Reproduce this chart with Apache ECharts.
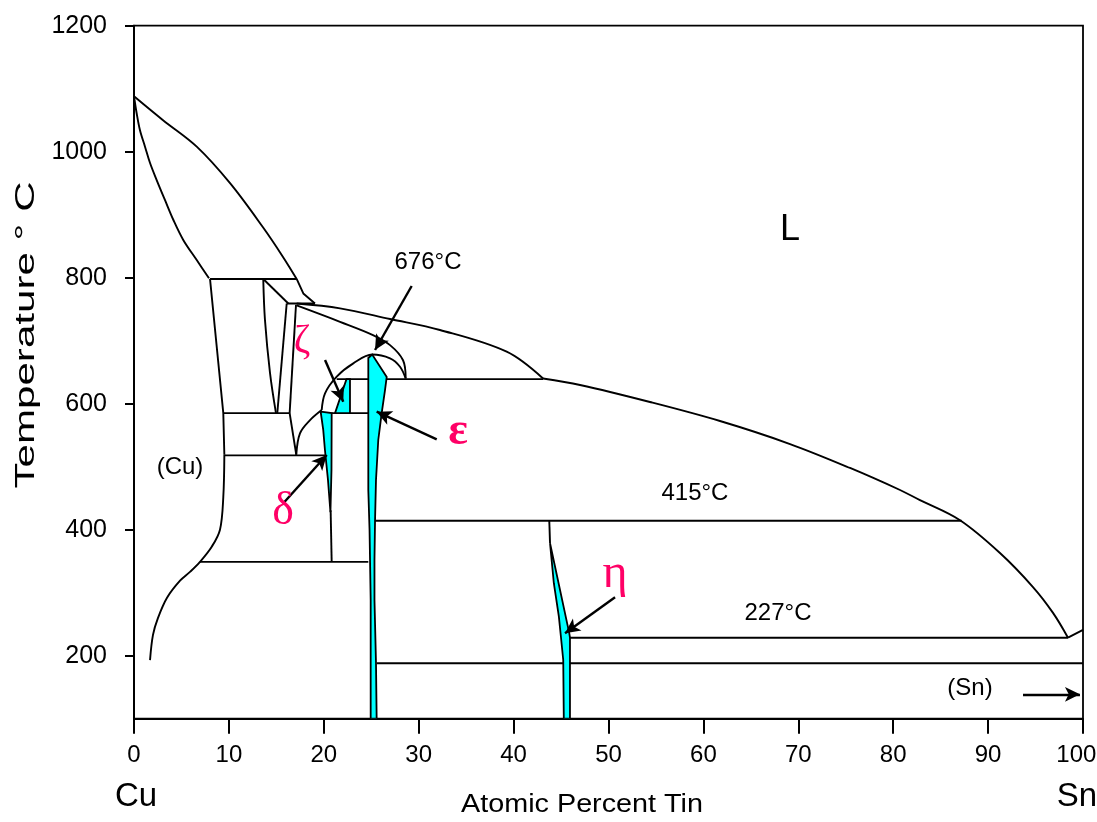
<!DOCTYPE html>
<html><head><meta charset="utf-8">
<script src="https://cdn.jsdelivr.net/npm/echarts@6/dist/echarts.min.js"></script>
<style>html,body{margin:0;padding:0;background:#fff}#c{width:1097px;height:822px}</style>
</head><body><div id="c"></div>
<script>
// ---------- data (composition at.% Sn, temperature °C) ----------
const xTicks = [0,10,20,30,40,50,60,70,80,90,100];
const yTicks = [200,400,600,800,1000,1200];

const liquidusCu = [[0,1088],[3.06,1050],[6.61,1008],[10.12,950],[13.59,880],[15.70,833],[17.14,798]];
const solidusCu = [[0,1088],[0.28,1061],[0.63,1034],[1.16,1008],[1.69,982],[2.39,955],[3.27,923],[4.14,892],[5.19,860],[6.61,828],[7.90,799]];
const alphaUpper = [[8.01,798],[9.41,585],[9.52,519]];
const alphaLower = [[9.52,519],[9.41,452],[9.06,400],[8.19,373],[6.95,349],[5.90,333],[4.85,319],[3.48,292],[2.53,260],[2.0,233],[1.69,193]];
const line798 = [[8.01,798],[17.14,798]];
const betaLeft = [[13.62,798],[13.80,733],[14.33,649],[14.96,585]];
const betaDiag = [[13.62,798],[16.26,759]];
const betaRight1 = [[16.09,759],[15.10,585]];
const betaRight2 = [[17.07,757],[16.40,585]];
const betaEutectoid = [[16.40,585],[17.10,519]];
const liquidusBeta = [[17.14,798],[17.84,775],[19.07,759]];
const line755 = [[16.09,759],[19.07,759]];
const gammaLow = [[17.10,519],[17.49,553],[18.55,574],[19.78,590]];
const dome = [[19.78,590],[20.13,616.5],[21.36,643],[23.11,664],[25.1,678],[26.98,672],[28.03,658.7],[28.63,640]];
const outerArc = [[17.14,756],[21.71,730],[25.18,709],[26.98,693],[28.35,669],[28.63,640]];
const liquidusMain1 = [[17.14,759],[21.71,751.4],[26.98,734.4],[32.24,717],[39.27,682.5],[43.10,640]];
const liquidusMain2 = [[43.10,640],[47.0,629.7],[54.37,602.7],[61.75,572.5],[69.13,536],[75.45,498],[80.72,463],[82.82,447],[87.04,415],[91.25,363],[94.73,309],[96.84,268],[98.42,228.6]];
const line640 = [[21.36,639],[43.10,639]];
const line586a = [[9.41,585],[16.40,585]];
const line586b = [[20.83,585],[24.69,585]];
const line520 = [[9.52,518],[20.31,518]];
const line350 = [[6.95,349],[24.69,349]];
const deltaTail = [[20.72,431],[20.83,349]];
const line415 = [[25.40,414.3],[87.22,414.3]];
const etaStem = [[43.76,414.3],[43.84,378]];
const line227 = [[45.94,228.6],[98.42,228.6]];
const line190 = [[25.57,188],[100,188]];
const snSolvus = [[98.42,228.6],[100,241]];

const deltaPhase = [[19.67,587.3],[20.83,585],[20.81,495],[20.70,428],[20.44,479],[20.12,526.5],[19.94,558.3]];
const zetaPhase = [[22.39,639],[22.76,639],[22.76,585],[21.18,585]];
const epsilonPhase = [[25.1,678],[24.69,672.5],[24.69,463],[24.82,399.5],[24.94,288.4],[24.94,100],[25.57,100],[25.50,188.4],[25.34,288.4],[25.34,352],[25.40,415.4],[25.50,479],[25.74,542.4],[26.10,585.2],[26.45,621.7],[26.63,642.4]];
const etaPhase = [[43.84,378.4],[45.87,235.5],[45.94,228.6],[45.94,100],[45.29,100],[45.23,193.2],[45.02,224.9],[44.77,262],[44.24,315]];

const arrows = [
  [[29.26,786.8],[25.40,685.2]],
  [[20.13,669.4],[22.05,603.2]],
  [[31.90,543.5],[25.57,587.3]],
  [[15.73,441.9],[20.31,518.6]],
  [[50.69,292.7],[45.42,235.6]],
  [[93.68,138.7],[99.68,138.7]]
];

const textLabels = [[30.98,825,'676°C'],[4.85,499.5,'(Cu)'],[59.11,458.3,'415°C'],[67.86,267.8,'227°C'],[88.09,148.7,'(Sn)']];
const bigLabels = [[69.13,875.7,'L']];
const greekLabels = [[17.70,699.5,'ζ'],[34.14,555,'ε'],[15.70,428,'δ'],[50.69,329.7,'η']];

// ---------- styling / building ----------
const INK = '#000';
const PINK = '#FF0066';
const CYAN = '#00FFFF';
const greekSize = {'ζ':40,'ε':46,'δ':46,'η':48};
const greekWeight = {'ε':'bold'};

function lineS(d, smooth){
  return {type:'line', data:d, smooth: smooth ? 0.35 : false, showSymbol:false, symbol:'none',
    lineStyle:{color:INK, width:1.9}, silent:true, z:2, clip:true};
}
function polyS(d){
  return {type:'custom', data:d, encode:{x:0,y:1}, z:3, silent:true, clip:true,
    renderItem:function(params, api){
      if (params.dataIndex !== 0) return null;
      const pts = d.map(p => api.coord(p));
      return {type:'polygon', shape:{points:pts}, style:{fill:CYAN, stroke:INK, lineWidth:1.8}};
    }};
}
function labelS(arr, base, perItem){
  return {type:'scatter', z:5, silent:true, symbolSize:1, clip:false,
    itemStyle:{opacity:0},
    data: arr.map(t => {
      const o = {value:[t[0],t[1]], name:t[2]};
      if (perItem) o.label = perItem(t[2]);
      return o;
    }),
    label:Object.assign({show:true, position:'inside', formatter:p=>p.name, opacity:1,
      textBorderWidth:0}, base)};
}

const series = [
  lineS(liquidusCu,true), lineS(solidusCu,true), lineS(alphaUpper,false), lineS(alphaLower,true),
  lineS(line798,false), lineS(betaLeft,true), lineS(betaDiag,false), lineS(betaRight1,false),
  lineS(betaRight2,false), lineS(betaEutectoid,false), lineS(liquidusBeta,false), lineS(line755,false),
  lineS(gammaLow,true), lineS(dome,true), lineS(outerArc,true), lineS(liquidusMain1,true),
  lineS(liquidusMain2,true), lineS(line640,false), lineS(line586a,false), lineS(line586b,false),
  lineS(line520,false), lineS(line350,false), lineS(deltaTail,false), lineS(line415,false),
  lineS(etaStem,false), lineS(line227,false), lineS(line190,false), lineS(snSolvus,false),
  polyS(deltaPhase), polyS(zetaPhase), polyS(epsilonPhase), polyS(etaPhase),
  {type:'line', data:[], z:4, silent:true,
    markLine:{silent:true, animation:false, symbol:['none','arrow'], symbolSize:[11,15],
      label:{show:false}, lineStyle:{color:INK, width:2.4, type:'solid', opacity:1},
      data: arrows.map(a => [{coord:a[0]},{coord:a[1]}])}},
  labelS(textLabels, {color:INK, fontSize:24, fontFamily:'Liberation Sans'}),
  labelS(bigLabels, {color:INK, fontSize:36, fontFamily:'Liberation Sans'}),
  labelS(greekLabels, {color:PINK, fontFamily:'Liberation Serif'},
    k => ({fontSize:greekSize[k], fontWeight:greekWeight[k]||'normal', color:PINK}))
];

const chart = echarts.init(document.getElementById('c'), null, {renderer:'canvas'});
chart.setOption({
  animation:false,
  backgroundColor:'#fff',
  grid:{left:134, right:14, top:25.7, bottom:103.3, show:true, borderColor:INK, borderWidth:1.8,
    outerBoundsMode:'none', containLabel:false},
  xAxis:{type:'value', min:0, max:100, interval:10,
    axisLine:{show:true, onZero:false, lineStyle:{color:INK, width:2}},
    axisTick:{show:true, length:15, customValues:xTicks, lineStyle:{color:INK, width:2}},
    axisLabel:{show:true, customValues:xTicks, color:INK, fontSize:24, fontFamily:'Liberation Sans', margin:25,
      formatter:v => v === 100 ? '100\u00a0\u00a0' : String(v)},
    splitLine:{show:false}},
  yAxis:{type:'value', min:100, max:1200,
    axisLine:{show:true, onZero:false, lineStyle:{color:INK, width:2}},
    axisTick:{show:true, length:9, customValues:yTicks, lineStyle:{color:INK, width:2}},
    axisLabel:{show:true, customValues:yTicks, color:INK, fontSize:25, fontFamily:'Liberation Sans', margin:27,
      formatter:v=>String(v)},
    splitLine:{show:false}},
  graphic:[
    {type:'text', x:27, y:335, rotation:Math.PI/2, scaleX:1.56, silent:true,
      style:{text:'Temperature ° C', fontSize:27, fontFamily:'Liberation Sans', fill:INK, align:'center', verticalAlign:'middle'}},
    {type:'text', x:582, y:805, scaleX:1.15, silent:true,
      style:{text:'Atomic Percent Tin', fontSize:25, fontFamily:'Liberation Sans', fill:INK, align:'center', verticalAlign:'middle'}},
    {type:'text', x:136, y:797, silent:true,
      style:{text:'Cu', fontSize:33, fontFamily:'Liberation Sans', fill:INK, align:'center', verticalAlign:'middle'}},
    {type:'text', x:1077, y:797, silent:true,
      style:{text:'Sn', fontSize:33, fontFamily:'Liberation Sans', fill:INK, align:'center', verticalAlign:'middle'}}
  ],
  series: series
});
</script></body></html>
